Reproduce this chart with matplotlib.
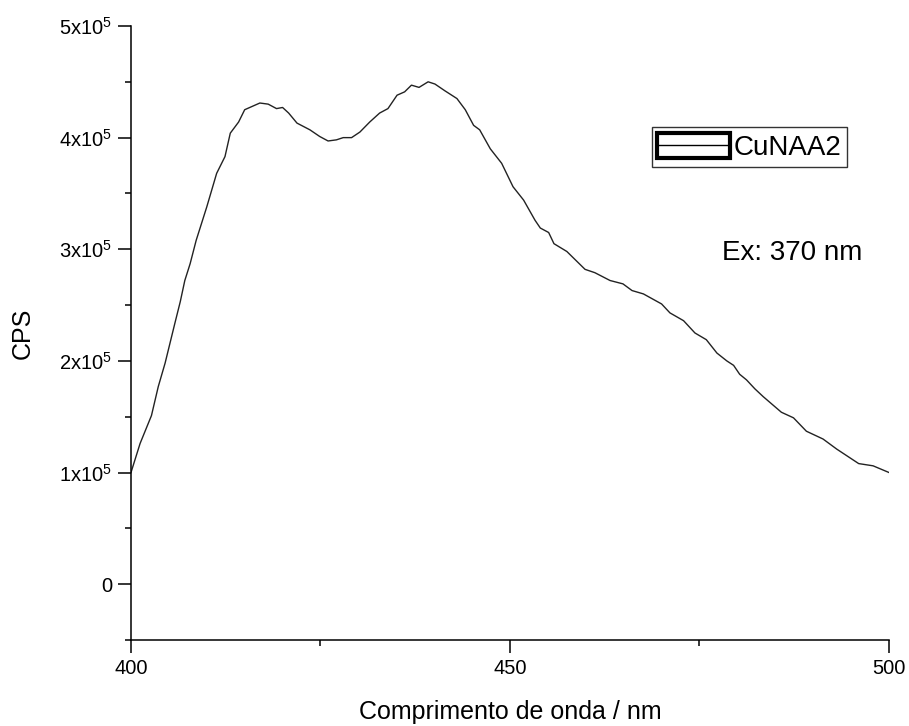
import matplotlib
matplotlib.use("Agg")
import matplotlib.pyplot as plt
from matplotlib.ticker import MultipleLocator, FuncFormatter
from matplotlib.legend_handler import HandlerBase
from matplotlib.patches import Rectangle
from matplotlib.lines import Line2D

plt.rcParams['font.family'] = ['Liberation Sans', 'DejaVu Sans']
plt.rcParams['mathtext.fontset'] = 'custom'
plt.rcParams['mathtext.rm'] = 'Liberation Sans'

# emission spectrum (wavelength in nm, counts per second in units of 1e5)
wavelength = [400.0, 401.2, 402.7, 403.6, 404.5, 405.8, 406.5, 407.1, 407.8, 408.6,
              410.0, 411.3, 412.4, 413.1, 414.2, 415.0, 417.0, 418.1, 419.2, 420.0,
              420.8, 421.9, 423.6, 424.9, 426.0, 427.1, 428.0, 429.1, 430.2, 431.5,
              432.8, 433.9, 435.1, 436.1, 437.0, 438.0, 439.2, 440.1, 441.4, 443.0,
              444.1, 445.2, 446.0, 447.4, 448.9, 450.4, 451.8, 453.3, 454.0, 455.1,
              455.8, 457.5, 459.9, 461.2, 463.2, 464.9, 466.1, 467.6, 470.0, 471.1,
              472.9, 474.4, 475.9, 477.3, 478.6, 479.5, 480.3, 481.2, 482.3, 483.4,
              485.8, 487.4, 489.1, 491.3, 493.1, 496.0, 497.9, 500.0]
cps = [1.00, 1.26, 1.51, 1.77, 1.98, 2.34, 2.53, 2.72, 2.87, 3.08,
       3.38, 3.68, 3.83, 4.04, 4.14, 4.25, 4.31, 4.30, 4.26, 4.27,
       4.22, 4.13, 4.07, 4.01, 3.97, 3.98, 4.00, 4.00, 4.05, 4.14,
       4.22, 4.26, 4.38, 4.41, 4.47, 4.45, 4.50, 4.48, 4.42, 4.35,
       4.25, 4.11, 4.07, 3.90, 3.77, 3.56, 3.44, 3.26, 3.19, 3.15,
       3.05, 2.98, 2.82, 2.79, 2.72, 2.69, 2.63, 2.60, 2.51, 2.43,
       2.36, 2.25, 2.19, 2.07, 2.00, 1.96, 1.88, 1.83, 1.75, 1.68,
       1.54, 1.49, 1.37, 1.30, 1.21, 1.08, 1.06, 1.00]
cps = [v * 1e5 for v in cps]

series_name = "CuNAA2"
note = "Ex: 370 nm"


class BoxedLine(HandlerBase):
    # legend sample: thick frame with the line drawn through it
    def create_artists(self, legend, orig_handle, xdescent, ydescent,
                       width, height, fontsize, trans):
        box = Rectangle((-xdescent, -ydescent), width, height, fill=False,
                        lw=3, ec='black', transform=trans)
        line = Line2D([-xdescent, -xdescent + width],
                      [-ydescent + height / 2] * 2, color='black', lw=1,
                      transform=trans)
        return [box, line]


fig = plt.figure(figsize=(9.09, 7.26), dpi=100)
ax = fig.add_axes([0.1441, 0.1185, 0.978 - 0.1441, 0.9642 - 0.1185])

ln, = ax.plot(wavelength, cps, color='#222222', lw=1.0)

ax.set_xlim(400, 500)
ax.set_ylim(-0.5e5, 5e5)

for s in ['top', 'right']:
    ax.spines[s].set_visible(False)
for s in ['left', 'bottom']:
    ax.spines[s].set_linewidth(1.1)

ax.xaxis.set_major_locator(MultipleLocator(50))
ax.xaxis.set_minor_locator(MultipleLocator(25))
ax.yaxis.set_major_locator(MultipleLocator(1e5))
ax.yaxis.set_minor_locator(MultipleLocator(0.5e5))


def ylab(v, pos):
    n = int(round(v / 1e5))
    if n == 0:
        return "0"
    return r"%dx10$^{5}$" % n


ax.yaxis.set_major_formatter(FuncFormatter(ylab))
ax.tick_params(which='major', direction='out', length=9.4, width=1.1,
               labelsize=14.5, pad=4)
ax.tick_params(which='minor', direction='out', length=4.5, width=1.1)

ax.set_xlabel("Comprimento de onda / nm", fontsize=18, labelpad=16)
ax.set_ylabel("CPS", fontsize=18, labelpad=18)

ax.legend([ln], [series_name], handler_map={Line2D: BoxedLine()},
          loc='upper left', bbox_to_anchor=(0.717, 0.825),
          bbox_transform=fig.transFigure, borderaxespad=0,
          fancybox=False, edgecolor='#333333', framealpha=1,
          fontsize=20, handlelength=2.6, handleheight=1.05,
          handletextpad=0.15, borderpad=0.2)
ax.legend_.get_frame().set_linewidth(1.0)

ax.text(0.794, 0.652, note, transform=fig.transFigure, fontsize=20,
        ha='left', va='center')

fig.savefig("out.png", dpi=100)
